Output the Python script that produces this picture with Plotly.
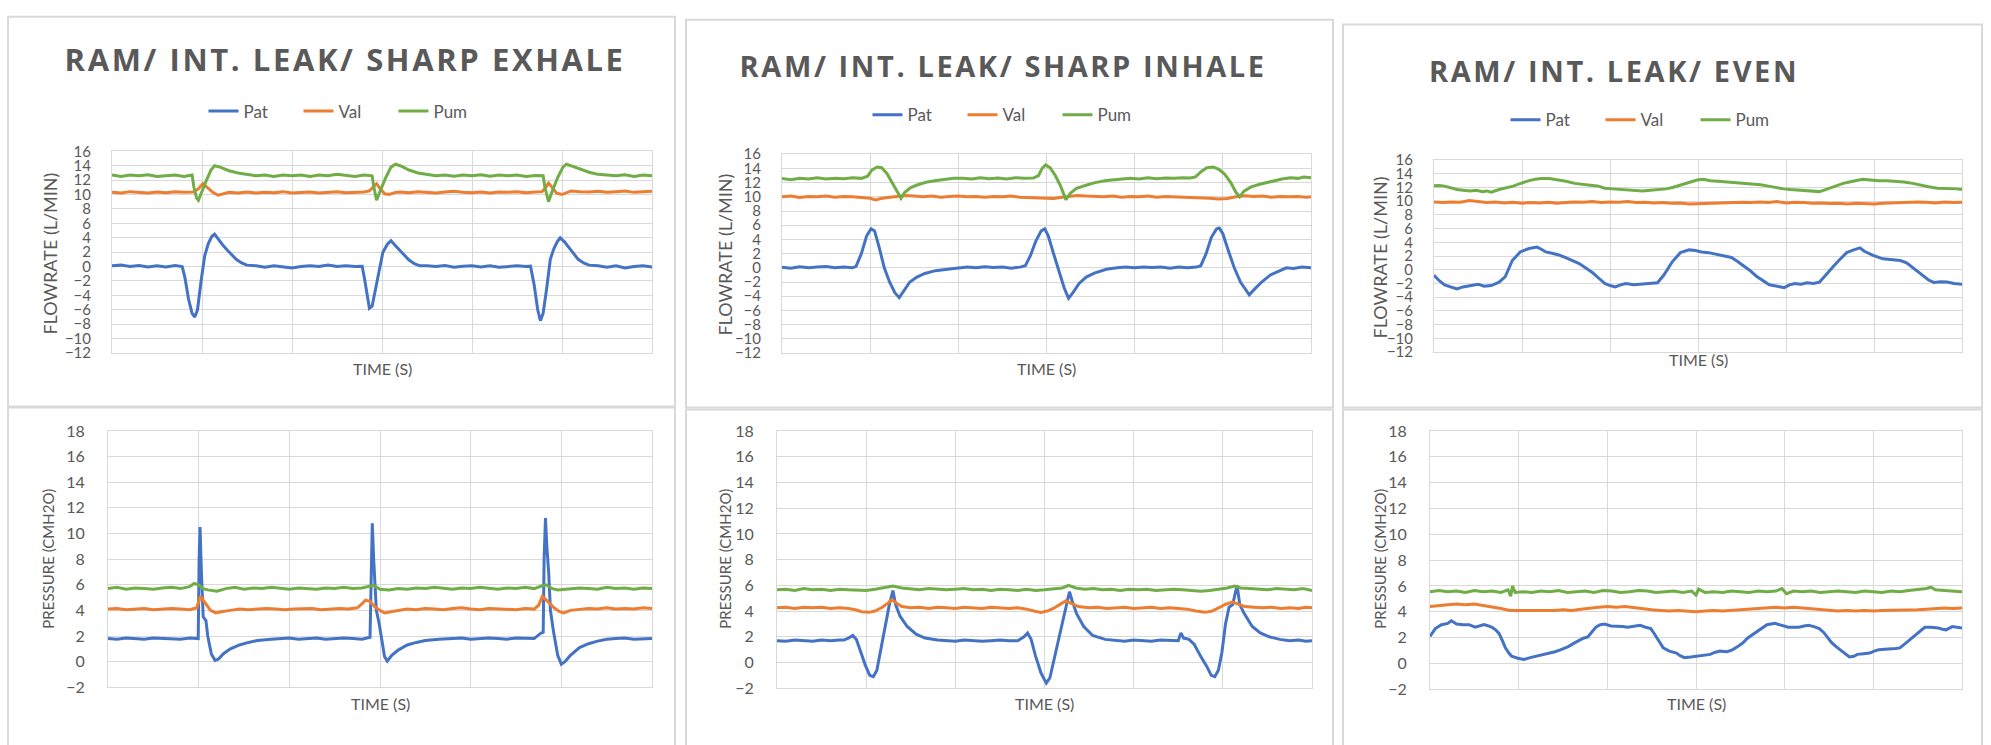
import plotly.graph_objects as go

W, H = 1991, 745
SERIES = ["Pat", "Val", "Pum"]
COLORS = {"Pat": "#4472C4", "Val": "#ED7D31", "Pum": "#70AD47"}
TITLES = ["RAM/ INT. LEAK/ SHARP EXHALE", "RAM/ INT. LEAK/ SHARP INHALE", "RAM/ INT. LEAK/ EVEN"]
FLOW_TITLE = "FLOWRATE (L/MIN)"
PRES_TITLE = "PRESSURE (CMH2O)"
X_TITLE = "TIME (S)"
FLOW_TICKS = list(range(-12, 17, 2))
PRES_TICKS = list(range(-2, 19, 2))

# ---- Panel A : flow, sharp exhale ----
A_PAT = [(0,0.1),(1,0.2),(2,0.0),(3,0.15),(4,-0.05),(5,0.1),(6,-0.05),(7,0.15),(7.8,0.0),(8.1,-1.5),(8.5,-4.5),(8.9,-6.5),(9.2,-7.0),(9.5,-6.0),(9.9,-2.0),(10.3,1.5),(10.7,3.2),(11.1,4.2),(11.4,4.5),(11.8,3.8),(12.3,3.0),(12.8,2.3),(13.3,1.6),(13.8,1.0),(14.4,0.5),(15,0.2),(16,0.1),(17,-0.1),(18,0.1),(19,0.0),(20,-0.2),(21,0.0),(22,0.1),(23,0.0),(24,0.2),(25,0.0),(26,0.1),(27,0.0),(27.8,0.05),(28.1,-2.0),(28.4,-4.5),(28.6,-5.8),(28.9,-5.5),(29.3,-3.0),(29.7,0.0),(30.1,2.0),(30.6,3.1),(31.0,3.6),(31.5,2.9),(32,2.2),(32.5,1.5),(33,0.9),(33.6,0.4),(34.2,0.1),(35,0.1),(36,0.0),(37,0.15),(38,-0.1),(39,0.05),(40,0.1),(41,-0.05),(42,0.1),(43,-0.1),(44,0.0),(45,0.1),(46,0.0),(46.5,0.05),(46.9,-2.5),(47.3,-6.0),(47.6,-7.5),(47.9,-6.5),(48.3,-3.0),(48.7,1.0),(49.1,2.5),(49.5,3.5),(49.8,4.0),(50.3,3.4),(50.8,2.6),(51.3,1.8),(51.8,1.0),(52.4,0.5),(53,0.2),(54,0.1),(55,-0.1),(56,0.1),(57,-0.2),(58,0.0),(59,0.1),(60,-0.05)]
A_VAL = [(0,10.3),(1,10.2),(2,10.4),(3,10.3),(4,10.2),(5,10.35),(6,10.25),(7,10.4),(8,10.3),(9,10.35),(9.6,10.8),(10.1,11.5),(10.6,11.0),(11.2,10.3),(11.8,9.9),(12.4,10.15),(13,10.3),(14,10.2),(15,10.35),(16,10.2),(17,10.3),(18,10.25),(19,10.4),(20,10.2),(21,10.3),(22,10.35),(23,10.2),(24,10.3),(25,10.4),(26,10.25),(27,10.3),(28,10.35),(28.6,10.5),(29.0,11.0),(29.4,11.5),(29.8,10.8),(30.3,10.1),(30.8,10.0),(31.5,10.3),(32,10.35),(33,10.25),(34,10.4),(35,10.3),(36,10.2),(37,10.35),(38,10.45),(39,10.3),(40,10.25),(41,10.35),(42,10.2),(43,10.35),(44,10.3),(45,10.4),(46,10.25),(47,10.35),(47.8,10.4),(48.2,11.0),(48.5,11.6),(48.9,11.0),(49.4,10.2),(50,10.0),(50.6,10.35),(51,10.5),(52,10.4),(53,10.35),(54,10.45),(55,10.3),(56,10.4),(57,10.5),(58,10.3),(59,10.4),(60,10.45)]
A_PUM = [(0,12.7),(1,12.5),(2,12.7),(3,12.6),(4,12.75),(5,12.5),(6,12.6),(7,12.7),(8,12.5),(8.9,12.7),(9.1,11.0),(9.4,9.5),(9.6,9.2),(10.0,10.5),(10.5,12.0),(11.0,13.4),(11.4,14.0),(12,13.8),(13,13.3),(14,13.0),(15,12.8),(16,12.6),(17,12.7),(18,12.5),(19,12.7),(20,12.6),(21,12.7),(22,12.5),(23,12.7),(24,12.6),(25,12.8),(26,12.6),(27,12.5),(28,12.7),(28.9,12.6),(29.1,11.0),(29.4,9.2),(29.8,10.5),(30.4,12.3),(31.0,13.8),(31.5,14.2),(32.2,13.9),(33,13.4),(34,13.0),(35,12.8),(36,12.6),(37,12.7),(38,12.55),(39,12.7),(40,12.6),(41,12.75),(42,12.55),(43,12.7),(44,12.6),(45,12.7),(46,12.5),(47,12.65),(47.9,12.6),(48.1,11.0),(48.5,9.0),(48.9,10.4),(49.5,12.3),(50.1,13.8),(50.5,14.2),(51.2,13.9),(52,13.5),(53,13.1),(54,12.8),(55,12.7),(56,12.6),(57,12.75),(58,12.5),(59,12.7),(60,12.6)]

# ---- Panel B : flow, sharp inhale ----
B_PAT = [(0,0.1),(1,-0.05),(2,0.15),(3,0.0),(4,0.1),(5,0.2),(6,0.0),(7,0.1),(8,0.0),(8.4,0.2),(9.0,2.0),(9.6,4.5),(10.1,5.5),(10.5,5.2),(11.0,3.0),(11.6,0.0),(12.2,-2.0),(12.8,-3.5),(13.3,-4.2),(13.8,-3.2),(14.5,-2.0),(15.3,-1.3),(16.2,-0.8),(17.4,-0.4),(18.5,-0.2),(19.5,-0.1),(20.3,0.0),(21,0.1),(22,0.0),(23,0.15),(24,0.05),(25,0.1),(26,-0.05),(27,0.1),(27.6,0.3),(28.2,1.8),(28.8,3.8),(29.4,5.2),(29.8,5.5),(30.2,4.5),(30.8,2.0),(31.4,-0.5),(32.0,-2.8),(32.5,-4.3),(33.0,-3.5),(33.7,-2.2),(34.5,-1.3),(35.5,-0.7),(36.8,-0.2),(38,0.0),(39,0.1),(40,0.0),(41,0.1),(42,0.05),(43,0.1),(44,-0.05),(45,0.1),(46,0.0),(47,0.1),(47.5,0.3),(48.1,2.0),(48.7,4.3),(49.3,5.5),(49.6,5.6),(50.0,4.8),(50.6,2.5),(51.3,0.0),(52.0,-2.0),(52.5,-3.0),(53.0,-3.8),(53.6,-3.0),(54.4,-2.0),(55.4,-1.0),(56.4,-0.4),(57.2,0.0),(58,-0.1),(59,0.1),(60,0.0)]
B_VAL = [(0,10.0),(1,10.1),(2,9.9),(3,10.05),(4,10.0),(5,10.1),(6,9.95),(7,10.05),(8,10.0),(9,9.9),(10,9.8),(10.6,9.55),(11.2,9.75),(12,9.9),(13,10.0),(14,10.2),(15,10.1),(16,10.0),(17,10.1),(18,9.95),(19,10.05),(20,10.1),(21,10.0),(22,10.05),(23,9.95),(24,10.05),(25,10.0),(26,10.1),(27,9.95),(28,9.9),(29,9.8),(30,9.7),(30.8,9.75),(31.5,9.9),(32.5,10.1),(33.5,10.2),(34.5,10.1),(35.5,10.05),(36.5,10.0),(37.5,10.1),(38.5,9.95),(39.5,10.05),(40.5,10.0),(41.5,10.1),(42.5,9.95),(43.5,10.05),(44.5,10.0),(45.5,10.05),(46.5,9.95),(47.5,9.9),(48.5,9.8),(49.5,9.7),(50.5,9.75),(51.5,10.0),(52.5,10.15),(53.5,10.05),(54.5,10.1),(55.5,9.95),(56.5,10.05),(57.5,10.0),(58.5,10.05),(59.5,9.95),(60,10.0)]
B_PUM = [(0,12.6),(1,12.4),(2,12.6),(3,12.5),(4,12.7),(5,12.5),(6,12.6),(7,12.55),(8,12.7),(9,12.6),(9.7,12.9),(10.2,13.8),(10.8,14.2),(11.3,14.1),(11.9,13.3),(12.5,12.0),(13.0,10.8),(13.5,9.8),(13.9,10.6),(14.6,11.3),(15.4,11.7),(16.5,12.1),(17.5,12.3),(18.4,12.4),(19.5,12.6),(20.5,12.6),(21.5,12.5),(22.5,12.7),(23.5,12.55),(24.5,12.65),(25.5,12.5),(26.5,12.7),(27.5,12.6),(28.5,12.65),(29.1,13.0),(29.5,14.0),(29.9,14.5),(30.4,14.1),(31.0,13.0),(31.6,11.5),(32.2,9.6),(32.7,10.5),(33.4,11.2),(34.4,11.6),(35.5,12.0),(36.8,12.3),(38.3,12.5),(39.5,12.6),(40.5,12.5),(41.5,12.7),(42.5,12.55),(43.5,12.65),(44.5,12.6),(45.5,12.7),(46.3,12.65),(46.9,12.8),(47.6,13.6),(48.2,14.1),(48.9,14.2),(49.5,13.9),(50.2,13.2),(50.9,12.0),(51.5,10.6),(51.9,10.0),(52.4,10.8),(53.2,11.4),(54.3,11.8),(55.5,12.2),(56.7,12.5),(57.7,12.7),(58.5,12.6),(59.2,12.8),(60,12.7)]

# ---- Panel C : flow, even ----
C_PAT = [(0,-0.8),(0.6,-1.6),(1.2,-2.2),(1.9,-2.5),(2.6,-2.8),(3.3,-2.5),(4.1,-2.3),(5.0,-2.1),(5.7,-2.4),(6.5,-2.3),(7.4,-1.8),(8.1,-1.0),(8.9,1.35),(9.8,2.6),(10.8,3.1),(11.7,3.3),(12.2,3.0),(12.7,2.6),(13.4,2.4),(14.1,2.2),(14.7,1.9),(15.3,1.6),(15.9,1.3),(16.5,0.9),(17.2,0.3),(18.0,-0.4),(18.7,-1.2),(19.4,-2.0),(20.0,-2.3),(20.6,-2.5),(21.2,-2.2),(21.8,-2.0),(22.7,-2.2),(23.7,-2.1),(24.6,-2.0),(25.4,-1.9),(26.1,-0.8),(27.1,1.2),(28.0,2.5),(29.0,2.9),(29.7,2.8),(30.4,2.6),(31.2,2.5),(31.9,2.3),(32.8,2.0),(33.8,1.8),(34.5,1.2),(35.2,0.6),(35.9,-0.1),(36.6,-0.9),(37.4,-1.6),(38.1,-2.2),(39.0,-2.4),(39.8,-2.6),(40.4,-2.2),(41.0,-2.0),(41.7,-2.1),(42.4,-1.9),(43.1,-2.0),(43.8,-1.8),(44.3,-1.1),(44.8,-0.3),(45.4,0.5),(46.0,1.35),(46.9,2.5),(47.7,2.9),(48.4,3.2),(48.9,2.7),(49.9,2.1),(51.0,1.6),(52.2,1.4),(53.0,1.35),(53.7,1.0),(54.3,0.4),(54.9,-0.2),(55.5,-0.9),(56.2,-1.5),(56.8,-1.85),(57.6,-1.75),(58.3,-1.8),(59.1,-2.0),(60,-2.1)]
C_VAL = [(0,9.9),(1,9.8),(2,9.9),(3,9.85),(4,10.1),(5,9.95),(6,9.8),(7,9.9),(8,9.75),(9,9.85),(10,9.7),(11,9.8),(12,9.75),(13,9.85),(14,9.7),(15,9.8),(16,9.9),(17,9.85),(18,9.95),(19,9.8),(20,9.9),(21,9.85),(22,9.95),(23,9.8),(24,9.85),(25,9.75),(26,9.8),(27,9.7),(28,9.75),(29,9.6),(30,9.65),(31,9.6),(32,9.7),(33,9.8),(34,9.75),(35,9.85),(36,9.8),(37,9.9),(38,9.8),(39,9.95),(40,9.75),(41,9.85),(42,9.8),(43,9.7),(44,9.75),(45,9.65),(46,9.7),(47,9.6),(48,9.7),(49,9.65),(50,9.6),(51,9.7),(52,9.75),(53,9.85),(54,9.8),(55,9.9),(56,9.85),(57,9.75),(58,9.9),(59,9.8),(60,9.85)]
C_PUM = [(0,12.25),(0.6,12.3),(1.2,12.2),(1.9,11.9),(2.6,11.7),(3.3,11.6),(4.1,11.5),(4.8,11.6),(5.5,11.4),(6.0,11.5),(6.5,11.3),(7.4,11.7),(8.4,12.0),(9.0,12.2),(9.6,12.5),(10.2,12.8),(10.8,13.0),(11.5,13.2),(12.2,13.3),(13.1,13.3),(14.1,13.1),(15.0,12.9),(16.0,12.6),(17.0,12.5),(18.0,12.3),(18.7,12.2),(19.4,11.9),(20.3,11.8),(21.3,11.7),(22.5,11.6),(23.7,11.5),(24.6,11.6),(25.6,11.7),(26.4,11.8),(27.1,12.0),(27.8,12.3),(28.5,12.5),(29.2,12.8),(29.9,13.1),(30.6,13.2),(31.4,13.0),(32.3,12.9),(33.3,12.8),(34.2,12.7),(35.2,12.6),(36.1,12.5),(37.1,12.4),(38.0,12.2),(39.0,11.9),(39.7,11.8),(40.5,11.7),(41.4,11.6),(42.4,11.5),(43.1,11.5),(43.8,11.4),(44.5,11.7),(45.3,12.1),(45.9,12.4),(46.5,12.6),(47.2,12.8),(47.9,13.0),(48.7,13.2),(49.6,13.1),(50.5,13.0),(51.5,13.0),(52.5,12.9),(53.4,12.8),(54.4,12.6),(55.3,12.3),(56.2,12.1),(57.2,11.9),(58.0,11.9),(58.7,11.9),(59.4,11.8),(60,11.7)]

# ---- Panel D : pressure, sharp exhale ----
D_PAT = [(0,1.8),(1,1.75),(2,1.85),(3,1.8),(4,1.75),(5,1.85),(6,1.8),(7,1.8),(8,1.75),(9,1.85),(9.95,1.8),(10.05,8.0),(10.15,10.5),(10.3,7.0),(10.5,3.5),(10.8,3.2),(11.0,2.0),(11.4,0.6),(11.8,0.1),(12.2,0.2),(12.7,0.6),(13.5,1.0),(14.5,1.3),(15.5,1.5),(16.5,1.65),(18,1.75),(19,1.8),(20,1.85),(21,1.75),(22,1.8),(23,1.85),(24,1.75),(25,1.8),(26,1.85),(27,1.8),(28,1.75),(28.9,1.9),(29.0,7.0),(29.15,10.8),(29.3,8.0),(29.6,4.0),(29.9,3.0),(30.2,1.5),(30.5,0.4),(30.8,0.05),(31.3,0.5),(32,0.9),(33,1.3),(34,1.5),(35,1.65),(36.5,1.75),(38,1.8),(39,1.85),(40,1.75),(41,1.8),(42,1.85),(43,1.8),(44,1.75),(45,1.85),(46,1.8),(47,1.8),(47.7,2.2),(48.0,2.3),(48.1,8.0),(48.25,11.2),(48.4,9.0),(48.6,7.0),(48.8,4.0),(49.1,2.5),(49.6,0.5),(50.0,-0.2),(50.4,0.0),(51,0.5),(52,1.1),(53,1.4),(54,1.6),(55,1.75),(56,1.8),(57,1.85),(58,1.75),(59,1.8),(60,1.8)]
D_VAL = [(0,4.1),(1,4.15),(2,4.05),(3,4.1),(4,4.15),(5,4.05),(6,4.1),(7,4.15),(8,4.1),(9,4.05),(9.8,4.2),(10.2,5.1),(10.7,4.6),(11.3,4.0),(11.9,3.8),(12.5,3.9),(13.5,4.0),(14.5,4.1),(15.5,4.05),(16.5,4.1),(17.5,4.15),(18.5,4.1),(19.5,4.05),(20.5,4.1),(21.5,4.1),(22.5,4.15),(23.5,4.05),(24.5,4.1),(25.5,4.15),(26.5,4.1),(27.5,4.2),(28.0,4.5),(28.4,4.8),(28.9,4.7),(29.4,4.3),(30.0,4.0),(30.5,3.8),(31.2,3.9),(32.0,4.0),(33,4.1),(34,4.05),(35,4.15),(36,4.1),(37,4.05),(38,4.15),(39,4.2),(40,4.1),(41,4.05),(42,4.15),(43,4.1),(44,4.1),(45,4.05),(46,4.15),(47,4.1),(47.5,4.4),(47.9,5.1),(48.5,4.7),(49.2,4.2),(49.8,3.9),(50.3,3.8),(51,4.0),(52,4.1),(53,4.15),(54,4.1),(55,4.2),(56,4.1),(57,4.15),(58,4.1),(59,4.2),(60,4.15)]
D_PUM = [(0,5.7),(1,5.8),(2,5.65),(3,5.75),(4,5.7),(5,5.65),(6,5.75),(7,5.8),(8,5.7),(9,5.85),(9.5,6.1),(10,6.0),(10.5,5.7),(11,5.6),(12,5.5),(13,5.7),(14,5.8),(15,5.65),(16,5.75),(17,5.7),(18,5.8),(19,5.7),(20,5.65),(21,5.75),(22,5.7),(23,5.65),(24,5.75),(25,5.7),(26,5.8),(27,5.7),(28,5.75),(28.8,5.9),(29.3,5.95),(30,5.65),(31,5.6),(32,5.7),(33,5.65),(34,5.75),(35,5.7),(36,5.8),(37,5.7),(38,5.65),(39,5.75),(40,5.7),(41,5.8),(42,5.7),(43,5.65),(44,5.75),(45,5.7),(46,5.8),(47,5.7),(47.8,5.9),(48.3,6.0),(49,5.7),(49.6,5.6),(50.5,5.65),(51,5.7),(52,5.75),(53,5.7),(54,5.65),(55,5.8),(56,5.7),(57,5.75),(58,5.65),(59,5.75),(60,5.7)]

# ---- Panel E : pressure, sharp inhale ----
E_PAT = [(0,1.7),(1,1.65),(2,1.75),(3,1.7),(4,1.65),(5,1.75),(6,1.7),(7,1.75),(7.5,1.75),(8.0,1.9),(8.5,2.1),(8.9,1.8),(9.4,0.8),(9.9,-0.2),(10.4,-1.0),(10.8,-1.1),(11.2,-0.6),(11.6,0.8),(12.1,2.5),(12.6,4.5),(13.0,5.6),(13.3,4.5),(13.8,3.6),(14.6,2.8),(15.6,2.2),(16.6,1.9),(18,1.75),(19,1.7),(20,1.65),(21,1.75),(22,1.7),(23,1.65),(24,1.7),(25,1.75),(26,1.7),(27,1.7),(27.7,2.0),(28.1,2.3),(28.5,1.8),(29.0,0.5),(29.6,-0.8),(30.2,-1.6),(30.6,-1.2),(31.1,0.3),(31.7,2.0),(32.3,3.8),(32.8,5.5),(33.1,4.8),(33.6,3.8),(34.4,2.8),(35.4,2.1),(36.8,1.8),(38,1.7),(39,1.65),(40,1.75),(41,1.7),(42,1.65),(43,1.75),(44,1.7),(45.0,1.7),(45.3,2.3),(45.6,1.9),(46.2,1.8),(46.8,1.4),(47.5,0.5),(48.2,-0.3),(48.7,-1.0),(49.1,-1.1),(49.5,-0.6),(49.9,0.8),(50.3,3.0),(50.7,4.3),(51.1,4.5),(51.6,6.0),(51.9,4.5),(52.4,3.8),(53.3,2.8),(54.2,2.3),(55.2,2.0),(56.4,1.8),(57.5,1.7),(58.5,1.75),(59.3,1.65),(60,1.7)]
E_VAL = [(0,4.25),(1,4.3),(2,4.2),(3,4.3),(4,4.25),(5,4.3),(6,4.2),(7,4.25),(8,4.2),(8.8,4.1),(9.5,3.95),(10.3,3.9),(11.0,4.0),(11.8,4.3),(12.4,4.6),(12.9,4.9),(13.4,4.6),(14.0,4.35),(15,4.25),(16,4.3),(17,4.2),(18,4.3),(19,4.25),(20,4.2),(21,4.3),(22,4.25),(23,4.2),(24,4.3),(25,4.25),(26,4.2),(27,4.25),(28,4.15),(28.8,4.0),(29.6,3.9),(30.3,4.0),(31.0,4.2),(31.7,4.5),(32.4,4.8),(33.0,4.6),(33.8,4.35),(35,4.25),(36,4.3),(37,4.2),(38,4.25),(39,4.3),(40,4.2),(41,4.25),(42,4.3),(43,4.2),(44,4.25),(45,4.2),(46,4.15),(47,4.0),(48,3.9),(48.8,4.0),(49.6,4.3),(50.4,4.55),(51.1,4.7),(51.8,4.55),(52.5,4.35),(53.5,4.3),(54.5,4.25),(55.5,4.3),(56.5,4.2),(57.5,4.25),(58.5,4.2),(59.3,4.3),(60,4.25)]
E_PUM = [(0,5.65),(1,5.7),(2,5.6),(3,5.75),(4,5.65),(5,5.7),(6,5.6),(7,5.7),(8,5.65),(9,5.6),(10,5.6),(11,5.7),(12,5.8),(13,5.95),(14,5.8),(15,5.7),(16,5.65),(17,5.75),(18,5.7),(19,5.65),(20,5.7),(21,5.75),(22,5.65),(23,5.7),(24,5.6),(25,5.7),(26,5.65),(27,5.6),(28,5.7),(29,5.6),(30,5.65),(31,5.7),(32,5.8),(32.7,6.0),(33.5,5.8),(34.5,5.7),(35.5,5.75),(36.5,5.65),(37.5,5.7),(38.5,5.6),(39.5,5.7),(40.5,5.65),(41.5,5.7),(42.5,5.6),(43.5,5.65),(44.5,5.7),(45.5,5.65),(46.5,5.6),(47.5,5.55),(48.5,5.6),(49.5,5.7),(50.5,5.8),(51.3,5.95),(52,5.8),(53,5.75),(54,5.7),(55,5.65),(56,5.75),(57,5.7),(58,5.65),(59,5.75),(60,5.6)]

# ---- Panel F : pressure, even ----
F_PAT = [(0,2.1),(0.6,2.7),(1.3,3.0),(2.0,3.1),(2.4,3.3),(3.0,3.05),(3.7,3.0),(4.4,3.0),(5.1,2.8),(5.6,2.9),(6.1,3.0),(6.6,2.9),(7.0,2.8),(7.4,2.6),(7.8,2.3),(8.2,1.7),(8.5,1.2),(8.9,0.8),(9.2,0.55),(9.9,0.4),(10.6,0.3),(11.3,0.45),(12.0,0.55),(12.8,0.7),(13.5,0.8),(14.1,0.9),(14.7,1.05),(15.2,1.2),(15.6,1.3),(16.2,1.55),(16.8,1.8),(17.3,1.95),(17.8,2.05),(18.3,2.5),(18.7,2.8),(19.2,3.0),(19.7,3.05),(20.4,2.9),(21.1,2.9),(21.7,2.85),(22.3,2.8),(23.0,2.9),(23.7,2.95),(24.3,2.8),(24.9,2.7),(25.3,2.3),(25.6,1.95),(26.0,1.5),(26.3,1.2),(27.0,0.95),(27.8,0.8),(28.2,0.6),(28.7,0.45),(29.4,0.5),(30.1,0.55),(30.8,0.6),(31.6,0.7),(32.1,0.85),(32.7,0.95),(33.5,0.9),(34.1,1.05),(34.7,1.3),(35.3,1.6),(35.8,1.95),(36.3,2.2),(36.8,2.45),(37.4,2.75),(38.0,3.0),(38.9,3.1),(39.6,2.95),(40.4,2.8),(41.0,2.8),(41.6,2.8),(42.2,2.9),(42.7,2.95),(43.3,2.85),(43.9,2.7),(44.4,2.4),(44.9,1.95),(45.3,1.6),(45.8,1.3),(46.5,0.9),(47.3,0.5),(47.8,0.55),(48.2,0.7),(48.9,0.75),(49.6,0.8),(50.1,0.95),(50.6,1.05),(51.3,1.1),(52.0,1.1),(52.5,1.15),(53.0,1.2),(53.5,1.45),(53.9,1.7),(54.4,2.0),(54.9,2.3),(55.4,2.6),(55.8,2.8),(56.5,2.8),(57.3,2.75),(57.8,2.65),(58.2,2.6),(58.9,2.85),(59.5,2.8),(60,2.75)]
F_VAL = [(0,4.4),(1,4.5),(2,4.55),(3,4.6),(4,4.55),(5,4.6),(6,4.5),(7,4.4),(8,4.25),(9,4.1),(10,4.1),(11,4.05),(12,4.1),(13,4.05),(14,4.1),(15,4.15),(16,4.1),(17,4.2),(18,4.3),(19,4.35),(20,4.4),(21,4.35),(22,4.4),(23,4.3),(24,4.25),(25,4.15),(26,4.1),(27,4.05),(28,4.1),(29,4.05),(30,4.0),(31,4.05),(32,4.1),(33,4.05),(34,4.1),(35,4.15),(36,4.2),(37,4.25),(38,4.3),(39,4.35),(40,4.3),(41,4.35),(42,4.3),(43,4.25),(44,4.15),(45,4.1),(46,4.05),(47,4.1),(48,4.05),(49,4.1),(50,4.05),(51,4.1),(52,4.1),(53,4.15),(54,4.1),(55,4.15),(56,4.2),(57,4.25),(58,4.3),(59,4.25),(60,4.3)]
F_PUM = [(0,5.55),(1,5.65),(2,5.55),(3,5.6),(4,5.5),(5,5.65),(6,5.55),(7,5.6),(8,5.5),(8.8,5.7),(9.1,5.2),(9.3,6.0),(9.6,5.5),(10.5,5.55),(11.5,5.5),(12.5,5.6),(13.5,5.55),(14.5,5.65),(15.5,5.5),(16.5,5.55),(17.5,5.6),(18.5,5.5),(19.5,5.65),(20.5,5.6),(21.5,5.5),(22.5,5.55),(23.5,5.65),(24.5,5.6),(25.5,5.5),(26.5,5.55),(27.5,5.6),(28.5,5.5),(29.5,5.6),(30.0,5.3),(30.3,5.75),(31,5.5),(32,5.55),(33,5.5),(34,5.6),(35,5.55),(36,5.5),(37,5.6),(38,5.55),(39,5.6),(39.7,5.8),(40.2,5.4),(41,5.6),(42,5.55),(43,5.6),(44,5.5),(45,5.55),(46,5.6),(47,5.55),(48,5.5),(49,5.6),(50,5.55),(51,5.5),(52,5.6),(53,5.55),(54,5.65),(55,5.7),(56,5.8),(56.5,5.9),(57,5.7),(58,5.65),(59,5.6),(60,5.55)]

PANELS = [
    {"data": (A_PAT, A_VAL, A_PUM), "kind": "flow", "px": (112, 652), "py": (145, 352), "legend": "legend"},
    {"data": (B_PAT, B_VAL, B_PUM), "kind": "flow", "px": (782, 1311), "py": (148, 352), "legend": "legend2"},
    {"data": (C_PAT, C_VAL, C_PUM), "kind": "flow", "px": (1434, 1962), "py": (154, 351), "legend": "legend3"},
    {"data": (D_PAT, D_VAL, D_PUM), "kind": "pres", "px": (108, 652), "py": (432, 695), "legend": None},
    {"data": (E_PAT, E_VAL, E_PUM), "kind": "pres", "px": (777, 1312), "py": (432, 696), "legend": None},
    {"data": (F_PAT, F_VAL, F_PUM), "kind": "pres", "px": (1430, 1962), "py": (432, 697), "legend": None},
]

GRID = "#d9d9d9"
TXT = "#595959"
FONT = "Lato, 'Open Sans', sans-serif"

fig = go.Figure()
layout = {}
for i, p in enumerate(PANELS):
    n = "" if i == 0 else str(i + 1)
    for name, series in zip(SERIES, p["data"]):
        xs = [a for a, b in series]
        ys = [b for a, b in series]
        tr = dict(x=xs, y=ys, mode="lines", name=name,
                  line=dict(color=COLORS[name], width=3),
                  xaxis="x" + n, yaxis="y" + n, hoverinfo="skip")
        if p["legend"]:
            tr["legend"] = p["legend"]
            tr["showlegend"] = True
        else:
            tr["showlegend"] = False
        fig.add_trace(go.Scatter(**tr))
    x0, x1 = p["px"]
    y0, y1 = p["py"]
    flow = p["kind"] == "flow"
    layout["xaxis" + n] = dict(
        domain=[x0 / W, x1 / W], range=[0, 60], dtick=10, tick0=0,
        showticklabels=False, showgrid=True, gridcolor=GRID, gridwidth=1,
        zeroline=False, showline=True, mirror=True, linecolor=GRID, linewidth=1,
        anchor="y" + n, fixedrange=True)
    layout["yaxis" + n] = dict(
        domain=[1 - y1 / H, 1 - y0 / H],
        range=[-12, 16] if flow else [-2, 18],
        tickvals=FLOW_TICKS if flow else PRES_TICKS,
        showgrid=True, gridcolor=GRID, gridwidth=1,
        zeroline=False, showline=True, mirror=True, linecolor=GRID, linewidth=1,
        ticks="", ticklabelstandoff=17 if flow else 19,
        tickfont=dict(size=15 if flow else 16, color=TXT, family=FONT),
        anchor="x" + n, fixedrange=True)

annotations = []
# chart titles
for text, (cx, cy), sz in zip(TITLES, [(345, 50), (1003, 57), (1614, 62)], [31, 29, 29]):
    annotations.append(dict(text=text, x=cx / W, y=1 - cy / H, xref="paper", yref="paper",
                            showarrow=False, xanchor="center", yanchor="middle",
                            font=dict(family="'Open Sans', sans-serif", size=sz, color=TXT, weight="bold")))
# y axis titles
for text, (cx, cy), sz in [(FLOW_TITLE, (50, 250), 18), (FLOW_TITLE, (725, 251), 18), (FLOW_TITLE, (1380, 254), 18),
                           (PRES_TITLE, (48, 563), 15), (PRES_TITLE, (725, 563), 15), (PRES_TITLE, (1380, 563), 15)]:
    annotations.append(dict(text=text, x=cx / W, y=1 - cy / H, xref="paper", yref="paper",
                            showarrow=False, xanchor="center", yanchor="middle", textangle=-90,
                            font=dict(family=FONT, size=sz, color=TXT)))
# x axis titles
for cx, cy in [(382, 368), (1046, 368), (1698, 359), (380, 712), (1044, 712), (1696, 712)]:
    annotations.append(dict(text=X_TITLE, x=cx / W, y=1 - cy / H, xref="paper", yref="paper",
                            showarrow=False, xanchor="center", yanchor="middle",
                            font=dict(family=FONT, size=16, color=TXT)))

shapes = []
for bx0, bx1, by0, by1 in [(8, 675, 7, 407), (686, 1333, 10, 408), (1343, 1982, 15, 408),
                           (8, 675, 408, 770), (686, 1333, 410, 770), (1343, 1982, 410, 770)]:
    shapes.append(dict(type="rect", xref="paper", yref="paper",
                       x0=bx0 / W, x1=bx1 / W, y0=1 - by1 / H, y1=1 - by0 / H,
                       line=dict(color=GRID, width=2), fillcolor="rgba(0,0,0,0)", layer="below"))

def legend_at(cx, cy):
    return dict(orientation="h", x=cx / W, y=1 - cy / H, xanchor="center", yanchor="middle",
                font=dict(size=17, color=TXT, family=FONT), bgcolor="rgba(0,0,0,0)",
                itemwidth=30, entrywidth=50, entrywidthmode="pixels", tracegroupgap=0,
                itemclick=False, itemdoubleclick=False)

fig.update_layout(
    width=W, height=H, margin=dict(l=0, r=0, t=0, b=0),
    paper_bgcolor="white", plot_bgcolor="white",
    annotations=annotations, shapes=shapes,
    legend=legend_at(346, 104), legend2=legend_at(1010, 108), legend3=legend_at(1648, 113),
    hovermode=False,
    **layout)

POST = """
document.body.style.margin = '0';
document.body.style.overflow = 'hidden';
document.querySelectorAll('.annotation-text').forEach(function (t) {
  if (t.textContent.indexOf('RAM/') === 0) { t.style.letterSpacing = '2.6px'; }
});
"""

fig.write_html("out.html", post_script=POST, config={"displayModeBar": False})
